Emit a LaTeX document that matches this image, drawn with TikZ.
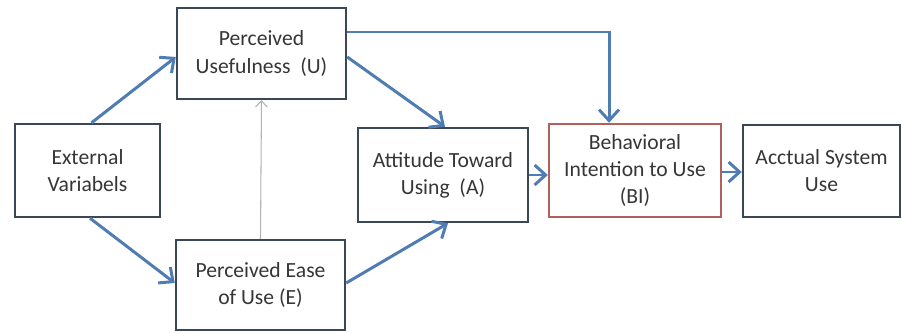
\documentclass[tikz,border=0pt]{standalone}
\usepackage{fontspec}
\setmainfont{Carlito}
\usetikzlibrary{arrows.meta}

\definecolor{boxline}{HTML}{3A4756}
\definecolor{arrowblue}{HTML}{4F7DB3}
\definecolor{bired}{HTML}{B2605E}
\definecolor{txtgray}{HTML}{363636}

\begin{document}
\begin{tikzpicture}[x=0.02cm, y=-0.02cm,
    box/.style={draw=boxline, line width=1.4pt, fill=white, align=center,
                text=txtgray, font=\fontsize{12.3}{15.4}\selectfont, inner sep=2pt},
    flow/.style={draw=arrowblue, line width=1.7pt, -{Straight Barb[length=2.2mm,width=4mm]}},
    thin/.style={draw=gray!60, line width=0.6pt, -{Straight Barb[length=1.2mm,width=2.4mm]}}]

    \useasboundingbox (0,0) rectangle (902,333);

    % boxes
    \node[box, minimum width=2.9cm, minimum height=1.86cm] (ext) at (87.5,170.5) {External\\Variabels};
    \node[box, minimum width=3.38cm, minimum height=1.82cm] (pu) at (261.5,53.5) {Perceived\\Usefulness~ (U)};
    \node[box, minimum width=3.38cm, minimum height=1.8cm] (peou) at (260.5,285) {Perceived Ease\\of Use (E)};
    \node[box, minimum width=3.4cm, minimum height=1.88cm] (att) at (443,175) {Attitude Toward\\Using~ (A)};
    \node[box, draw=bired, minimum width=3.44cm, minimum height=1.86cm] (bi) at (635,170.5) {Behavioral\\Intention to Use\\(BI)};
    \node[box, minimum width=3.14cm, minimum height=1.84cm] (act) at (821.5,171) {Acctual System\\Use};

    % arrows
    \draw[flow] ([xshift=0.08cm]ext.north) -- ([yshift=-0.07cm]pu.west);
    \draw[flow] ([xshift=0.05cm]ext.south) -- ([yshift=0.04cm]peou.west);
    \draw[flow] ([yshift=-0.07cm]pu.east) -- ([xshift=0.04cm]att.north);
    \draw[flow] ([yshift=0.04cm]peou.east) -- ([xshift=0.1cm]att.south);
    \draw[thin] (peou.north) -- (pu.south);
    \draw[flow] ([yshift=0.43cm]pu.east) -| ([xshift=-0.52cm]bi.north);
    \draw[flow] (att.east) -- (att.east -| bi.west);
    \draw[flow] ([yshift=-0.03cm]bi.east) -- ([yshift=-0.03cm]bi.east -| act.west);

\end{tikzpicture}
\end{document}
